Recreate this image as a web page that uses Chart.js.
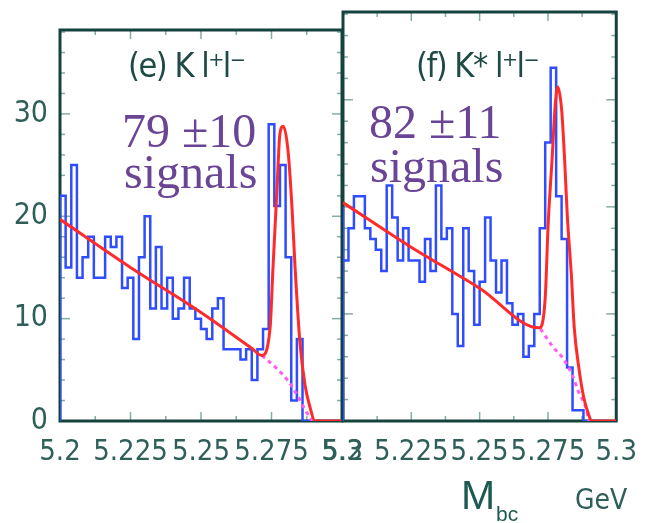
<!DOCTYPE html>
<html>
<head>
<meta charset="utf-8">
<script src="https://cdn.jsdelivr.net/npm/chart.js@4.4.1/dist/chart.umd.min.js"></script>
<style>
  body { margin: 0; background: #fff; }
  canvas { position: absolute; left: 0; top: 0; }
</style>
</head>
<body>
<canvas id="kll" width="651" height="523"></canvas>
<canvas id="kstar" width="651" height="523"></canvas>
<script>
// Mbc distributions, 2 MeV bins from 5.2 GeV
const binStart = 5.2;
const binWidth = 0.002;
const xTicks = [5.2, 5.225, 5.25, 5.275, 5.3];
const yTicks = [0, 10, 20, 30];
const yMax = 38.2;

// (e) K l+l-
const kllCounts = [
  11, 22, 15, 25, 14, 16, 18, 14, 14, 18,
  17, 18, 13, 14, 8, 16, 20, 11, 17, 11,
  14, 10, 11, 14, 11, 10, 9, 8, 11, 12,
  7, 7, 7, 6, 7, 4, 7, 9, 29, 21,
  25, 16, 2, 8, 0, 0, 0, 0, 0, 0
];
// (f) K* l+l-
const kstarCounts = [
  20, 15, 18, 21, 21, 18, 17, 16, 14, 22,
  19, 15, 18, 15, 15, 13, 17, 14, 22, 17,
  18, 10, 7, 18, 14, 9, 13, 19, 15, 12,
  15, 11, 9, 10, 6, 7, 10, 18, 26, 33,
  21, 17, 5, 1, 1, 0, 0, 0, 0, 0
];

// fit curves (total and background)
const kllFitX = [5.2, 5.225, 5.25, 5.268, 5.2716, 5.2745, 5.2755, 5.277, 5.278, 5.2792, 5.2809, 5.2823, 5.2833, 5.2851, 5.2869, 5.2887, 5.2904, 5.3];
const kllFitY = [19.7, 15.0, 10.6, 7.1, 6.4, 9.1, 14.8, 23, 28.1, 28.8, 26.3, 20.7, 15.3, 7.6, 3.5, 1.3, 0, 0];
const kllBkgX = [5.2716, 5.277, 5.2809, 5.2844, 5.2869, 5.2895];
const kllBkgY = [6.4, 5.1, 3.9, 2.4, 1.1, 0];

const kstarFitX = [5.2, 5.2245, 5.25, 5.2718, 5.274, 5.2751, 5.2765, 5.2776, 5.2786, 5.28, 5.2811, 5.2821, 5.2836, 5.2846, 5.2864, 5.2881, 5.2899, 5.291, 5.3];
const kstarFitY = [20.4, 16.3, 12.4, 8.7, 11.5, 18.5, 24.4, 29.3, 31.2, 29.1, 24.4, 19.1, 13.5, 8.8, 4.8, 2.2, 0.6, 0, 0];
const kstarBkgX = [5.2723, 5.2769, 5.2804, 5.2839, 5.2864, 5.2888, 5.29];
const kstarBkgY = [8.6, 6.9, 5.9, 4.3, 2.6, 1.3, 0];

const NARROW = "'Liberation Sans Narrow', 'DejaVu Sans Condensed', 'Liberation Sans', sans-serif";
const SANS = "'Liberation Sans', Arial, sans-serif";
const SERIF = "'Liberation Serif', 'Times New Roman', serif";
const TEAL = '#2f5f59';
const FRAME = '#15423d';
const PURPLE = '#6a4596';

function histPoints(counts) {
  const pts = [{ x: binStart, y: 0 }];
  counts.forEach((c, i) => pts.push({ x: binStart + i * binWidth, y: c }));
  pts.push({ x: binStart + counts.length * binWidth, y: counts[counts.length - 1] });
  return pts;
}
const toPts = (xs, ys) => xs.map((x, i) => ({ x: x, y: ys[i] }));

// frame with inward ticks on all four sides
const framePlugin = {
  id: 'frame',
  beforeDatasetsDraw(chart) {
    const { ctx, chartArea: a, scales } = chart;
    const line = (x1, y1, x2, y2) => { ctx.beginPath(); ctx.moveTo(x1, y1); ctx.lineTo(x2, y2); ctx.stroke(); };
    ctx.save();
    ctx.strokeStyle = '#86aca6';
    ctx.lineWidth = 1.5;
    for (let k = 0; k <= 8; k++) {
      const px = scales.x.getPixelForValue(5.2 + k * 0.0125);
      const len = k % 2 ? 5 : 9;
      line(px, a.bottom, px, a.bottom - len);
      line(px, a.top, px, a.top + len);
    }
    for (let v = 0; v <= 38; v += 2) {
      const py = scales.y.getPixelForValue(v);
      const len = v % 10 ? 5 : 10;
      line(a.left, py, a.left + len, py);
      line(a.right, py, a.right - len, py);
    }
    ctx.strokeStyle = FRAME;
    ctx.lineWidth = 3;
    ctx.strokeRect(a.left, a.top, a.right - a.left, a.bottom - a.top);
    ctx.restore();
  }
};

function notesPlugin(items) {
  return {
    id: 'notes',
    afterDraw(chart) {
      const ctx = chart.ctx;
      ctx.save();
      ctx.textBaseline = 'alphabetic';
      ctx.textAlign = 'left';
      items.forEach(t => {
        ctx.font = t.font;
        ctx.fillStyle = t.color;
        ctx.letterSpacing = t.spacing || '0px';
        ctx.fillText(t.text, t.x, t.y);
      });
      ctx.restore();
    }
  };
}

function makeChart(id, counts, fitX, fitY, bkgX, bkgY, pad, showY, notes) {
  return new Chart(document.getElementById(id), {
    type: 'line',
    data: {
      datasets: [
        { data: toPts(fitX, fitY), borderColor: '#ff2a2a', borderWidth: 3, pointRadius: 0,
          cubicInterpolationMode: 'monotone', order: 0 },
        { data: toPts(bkgX, bkgY), borderColor: '#ff5cf0', borderWidth: 3, borderDash: [4, 4],
          pointRadius: 0, cubicInterpolationMode: 'monotone', order: 1 },
        { data: histPoints(counts), borderColor: '#2f4dff', borderWidth: 2.5, pointRadius: 0,
          stepped: 'after', order: 2 }
      ]
    },
    options: {
      responsive: false,
      animation: false,
      layout: { padding: pad },
      plugins: { legend: { display: false }, tooltip: { enabled: false } },
      scales: {
        x: {
          type: 'linear', min: 5.2, max: 5.3,
          grid: { display: false, drawTicks: false }, border: { display: false },
          afterBuildTicks: s => { s.ticks = xTicks.map(v => ({ value: v })); },
          afterFit: s => { s.height = 102; },
          ticks: { padding: 14, color: TEAL, font: { family: NARROW, size: 29 },
                   maxRotation: 0, autoSkip: false,
                   callback: v => String(+v.toFixed(4)) }
        },
        y: {
          display: showY, min: 0, max: yMax,
          grid: { display: false, drawTicks: false }, border: { display: false },
          afterBuildTicks: s => { s.ticks = yTicks.map(v => ({ value: v })); },
          afterFit: s => { s.width = showY ? 60 : 0; },
          ticks: { padding: 12, color: TEAL, font: { family: NARROW, size: 30 } }
        }
      }
    },
    plugins: [framePlugin, notesPlugin(notes)]
  });
}

makeChart('kll', kllCounts, kllFitX, kllFitY, kllBkgX, kllBkgY,
  { left: 0, right: 309, top: 12, bottom: 0 }, true, [
    { text: '(e) K l\u207Al\u207B', x: 128, y: 77, font: '34px ' + NARROW, color: '#1f4a45', spacing: '-1.5px' },
    { text: '79 \u00B110', x: 122, y: 147, font: '48px ' + SERIF, color: PURPLE },
    { text: 'signals', x: 124, y: 188, font: '48px ' + SERIF, color: PURPLE }
  ]);

makeChart('kstar', kstarCounts, kstarFitX, kstarFitY, kstarBkgX, kstarBkgY,
  { left: 343, right: 24, top: 12, bottom: 0 }, false, [
    { text: '(f) K* l\u207Al\u207B', x: 416, y: 77, font: '34px ' + NARROW, color: '#1f4a45', spacing: '-1.5px' },
    { text: '82 \u00B111', x: 369, y: 138, font: '48px ' + SERIF, color: PURPLE },
    { text: 'signals', x: 370, y: 182, font: '48px ' + SERIF, color: PURPLE },
    { text: 'M', x: 461, y: 509, font: '41px ' + SANS, color: '#1f5a52' },
    { text: 'bc', x: 496, y: 521, font: '21px ' + SANS, color: '#1f5a52' },
    { text: 'GeV', x: 575, y: 509, font: '28px ' + NARROW, color: '#2f5f59' }
  ]);
</script>
</body>
</html>
